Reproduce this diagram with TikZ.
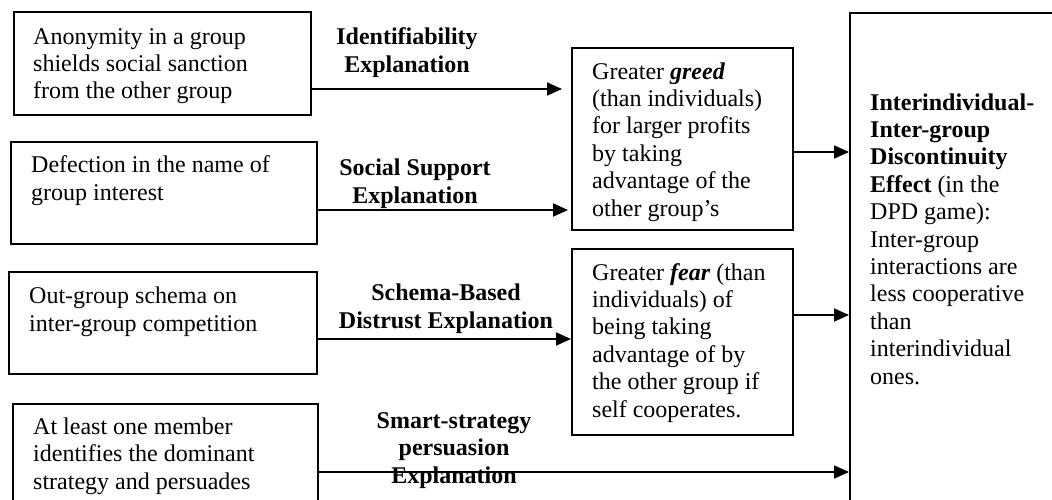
\documentclass[tikz,border=0pt]{standalone}
\usepackage{fontspec}
\setmainfont{Liberation Serif}
\usetikzlibrary{arrows.meta}
\begin{document}
\begin{tikzpicture}[x=1pt,y=-1pt,
  box/.style={draw, line width=1.8pt, anchor=north west, inner sep=0pt},
  txt/.style={font=\fontsize{24}{27.4}\selectfont, inner sep=0pt, anchor=base west, align=left},
  lbl/.style={font=\fontsize{24}{27.4}\selectfont\bfseries, inner sep=0pt, anchor=base, align=center},
  arr/.style={line width=1.8pt, -{Triangle[length=15pt,width=13pt]}}]
\useasboundingbox (0,0) rectangle (1052,499);
\clip (0,0) rectangle (1052,499);
% left boxes
\node[box, minimum width=297pt, minimum height=103pt] (b1) at (13,11) {};
\node[box, minimum width=306pt, minimum height=102pt] (b2) at (10,141) {};
\node[box, minimum width=308pt, minimum height=102pt] (b3) at (8,271) {};
\node[box, minimum width=305pt, minimum height=120pt] (b4) at (12,403) {};
% middle boxes
\node[box, minimum width=221pt, minimum height=182pt] (greed) at (571,47) {};
\node[box, minimum width=221pt, minimum height=186pt] (fear) at (571,248) {};
% big box
\node[box, minimum width=230pt, minimum height=510pt] (big) at (849,12) {};
% texts (anchor = baseline of the last line)
\node[txt, font=\fontsize{24}{26.7}\selectfont] (t1) at (33,98) {Anonymity in a group\\shields social sanction\\from the other group};
\node[txt] (t2) at (31,200) {Defection in the name of\\group interest};
\node[txt] (t3) at (29,331) {Out-group schema on\\inter-group competition};
\node[txt] (t4) at (33,489) {At least one member\\identifies the dominant\\strategy and persuades};
\node[txt] (tg) at (592,216) {Greater \textbf{\textit{greed}}\\(than individuals)\\for larger profits\\by taking\\advantage of the\\other group’s};
\node[txt] (tf) at (592,417) {Greater \textbf{\textit{fear}} (than\\individuals) of\\being taking\\advantage of by\\the other group if\\self cooperates.};
\node[txt] (tb) at (870,384) {\textbf{Interindividual-}\\\textbf{Inter-group}\\\textbf{Discontinuity}\\\textbf{Effect} (in the\\DPD game):\\Inter-group\\interactions are\\less cooperative\\than\\interindividual\\ones.};
% labels
\node[lbl] (l1) at (407,72) {Identifiability\\Explanation};
\node[lbl] (l2) at (415,203) {Social Support\\Explanation};
\node[lbl] (l3) at (446,328) {Schema-Based\\Distrust Explanation};
\node[lbl] (l4) at (454,483) {Smart-strategy\\persuasion\\Explanation};
% arrow levels
\coordinate (y1) at (0,89);
\coordinate (y2) at (0,210);
\coordinate (y3) at (0,339);
\coordinate (y4) at (0,472);
\coordinate (y5) at (0,152);
\coordinate (y6) at (0,315);
\draw[arr] (b1.east |- y1) -- ([xshift=-9pt]greed.west |- y1);
\draw[arr] (b2.east |- y2) -- ([xshift=-3pt]greed.west |- y2);
\draw[arr] (b3.east |- y3) -- (fear.west |- y3);
\draw[arr] (b4.east |- y4) -- (big.west |- y4);
\draw[arr] (greed.east |- y5) -- (big.west |- y5);
\draw[arr] (fear.east |- y6) -- (big.west |- y6);
\end{tikzpicture}
\end{document}
